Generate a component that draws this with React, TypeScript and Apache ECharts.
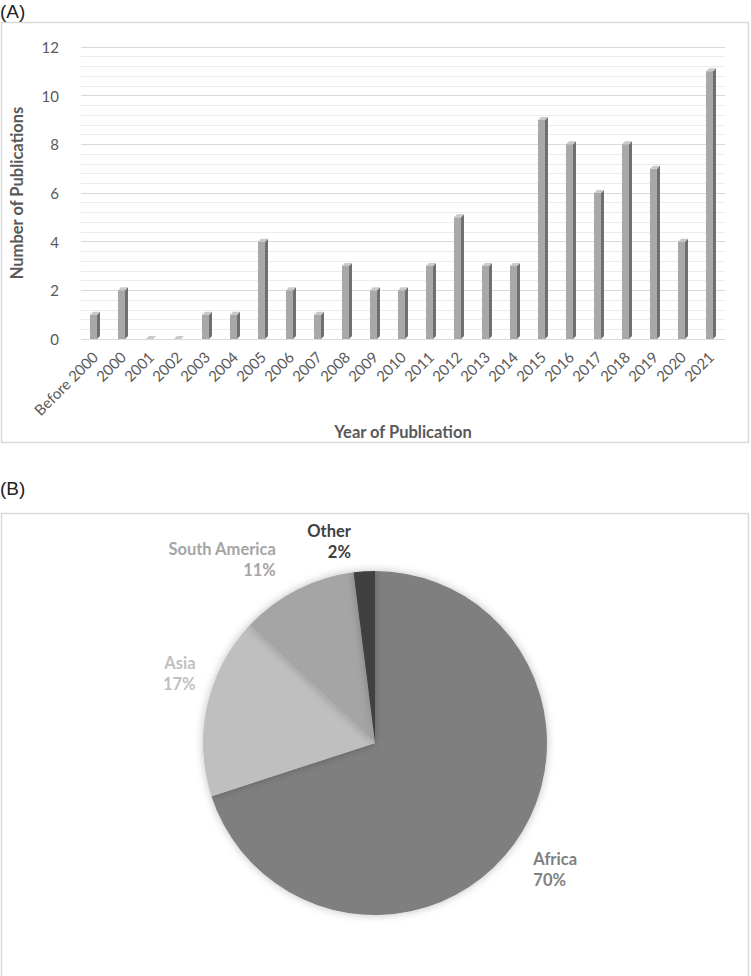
import React, { useEffect, useRef } from "react";
import * as echarts from "echarts";

const years = ["Before 2000", "2000", "2001", "2002", "2003", "2004", "2005", "2006", "2007", "2008", "2009", "2010", "2011", "2012", "2013", "2014", "2015", "2016", "2017", "2018", "2019", "2020", "2021"];
const publications = [1, 2, 0, 0, 1, 1, 4, 2, 1, 3, 2, 2, 3, 5, 3, 3, 9, 8, 6, 8, 7, 4, 11];
const yTicks = [0, 2, 4, 6, 8, 10, 12];

const regions = ["Africa", "Asia", "South America", "Other"];
const regionShares = [70, 17, 11, 2];
const regionColors = ["#7f7f7f", "#bfbfbf", "#a5a5a5", "#404040"];
const labelShift = [
  [-2, 14],
  [8, -28],
  [24, -36],
  [-7, -10],
];

const FONT = "Lato, 'Open Sans', sans-serif";

export default function App() {
  const ref = useRef<HTMLDivElement>(null);
  useEffect(() => {
    document.body.style.margin = "0";
    const chart = echarts.init(ref.current!, null, { renderer: "svg" });
    const option: any = {
      animation: false,
      backgroundColor: "#ffffff",
      graphic: [
        { type: "rect", shape: { x: 1.5, y: 22.5, width: 747, height: 420 }, style: { fill: "none", stroke: "#d9d9d9", lineWidth: 1.5 }, z: -1 },
        { type: "rect", shape: { x: 1.5, y: 513.5, width: 747, height: 480 }, style: { fill: "none", stroke: "#d9d9d9", lineWidth: 1.5 }, z: -1 },
        { type: "text", left: 0, top: 2, style: { text: "(A)", font: "19px 'Liberation Sans', Arial, sans-serif", fill: "#222" } },
        { type: "text", left: 0, top: 479, style: { text: "(B)", font: "19px 'Liberation Sans', Arial, sans-serif", fill: "#222" } },
      ],
      grid: { left: 74, right: 26, top: 47, height: 292 },
      xAxis: {
        type: "category",
        data: years,
        name: "Year of Publication",
        nameLocation: "middle",
        nameGap: 84,
        nameTextStyle: { fontFamily: FONT, fontWeight: "bold", fontSize: 16.5, color: "#595959" },
        axisLine: { show: false },
        axisTick: { show: false },
        axisLabel: { rotate: 45, margin: 15, fontFamily: FONT, fontSize: 15, color: "#595959", interval: 0 },
      },
      yAxis: {
        type: "value",
        min: 0,
        max: 12,
        interval: 2,
        name: "Number of Publications",
        nameLocation: "middle",
        nameGap: 56,
        nameTextStyle: { fontFamily: FONT, fontWeight: "bold", fontSize: 16.5, color: "#595959" },
        axisLine: { show: false },
        axisTick: { show: false },
        axisLabel: { margin: 22, fontFamily: FONT, fontSize: 15, color: "#595959", formatter: (v: number) => (yTicks.includes(v) ? String(v) : "") },
        splitLine: { lineStyle: { color: "#d9d9d9", width: 1.2 } },
        minorTick: { show: false, splitNumber: 5 },
        minorSplitLine: { show: true, lineStyle: { color: "#ececec", width: 1 } },
      },
      series: [
        {
          type: "custom",
          data: publications.map((v, i) => [i, v]),
          encode: { x: 0, y: 1 },
          renderItem: (params: any, api: any) => {
            const top = api.coord([api.value(0), api.value(1)]);
            const base = api.coord([api.value(0), 0]);
            const cx = top[0];
            const yt = top[1];
            const yb = base[1];
            const d = 3;
            return {
              type: "group",
              children: [
                { type: "rect", shape: { x: cx - 5, y: yt, width: 7, height: yb - yt }, style: { fill: "#a8a8a8" } },
                { type: "polygon", shape: { points: [[cx + 2, yt], [cx + 2 + d, yt - d], [cx + 2 + d, yb - d], [cx + 2, yb]] }, style: { fill: "#6f6f6f" } },
                { type: "polygon", shape: { points: [[cx - 5, yt], [cx + 2, yt], [cx + 2 + d, yt - d], [cx - 5 + d, yt - d]] }, style: { fill: "#c9c9c9" } },
              ],
            };
          },
        },
        {
          type: "pie",
          center: [375, 743],
          radius: 172,
          startAngle: 90,
          clockwise: true,
          data: regions.map((n, i) => ({
            name: n,
            value: regionShares[i],
            itemStyle: { color: regionColors[i] },
            label: { color: regionColors[i] },
          })),
          itemStyle: { borderWidth: 0, shadowBlur: 8, shadowColor: "rgba(0,0,0,0.25)" },
          label: {
            show: true,
            position: "outside",
            formatter: (p: any) => `${p.name}\n${p.value}%`,
            fontFamily: FONT,
            fontWeight: "bold",
            fontSize: 16.5,
            lineHeight: 21,
            align: "center",
          },
          labelLine: { show: false, length: 20, length2: 0 },
          labelLayout: (p: any) => ({ dx: labelShift[p.dataIndex][0], dy: labelShift[p.dataIndex][1] }),
          emphasis: { disabled: true },
        },
      ],
    };
    chart.setOption(option);
    return () => chart.dispose();
  }, []);
  return <div ref={ref} style={{ width: 751, height: 976 }} />;
}
